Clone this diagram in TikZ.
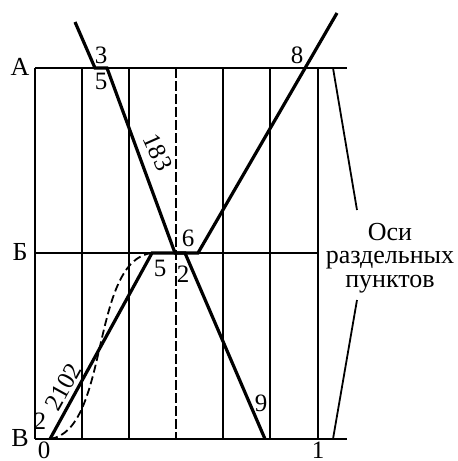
\documentclass[tikz,border=0pt]{standalone}
\usepackage{fontspec}
\setmainfont{Liberation Serif}

\begin{document}
\begin{tikzpicture}[x=0.5pt,y=-0.5pt,
  grid/.style={line width=0.9pt},
  train/.style={line width=1.6pt},
  lbl/.style={font=\fontsize{12.5}{14}\selectfont,inner sep=0.5pt}]
\useasboundingbox (0,0) rectangle (457,461);
% stations
\coordinate (A0) at (35,68);  \coordinate (A1) at (347,68);
\coordinate (B0) at (35,253); \coordinate (B1) at (318,253);
\coordinate (V0) at (35,439); \coordinate (V1) at (347,439);
\draw[grid] (A0) -- (A1);
\draw[grid] (B0) -- (B1);
\draw[grid] (V0) -- (V1);
\node[lbl,font=\fontsize{13}{14}\selectfont] (stA) at (20,67) {А};
\node[lbl,font=\fontsize{13}{14}\selectfont] (stB) at (20,252) {Б};
\node[lbl,font=\fontsize{13}{14}\selectfont] (stV) at (20,438) {В};
% time axes
\foreach \x in {35,82,129,223,270,318}
  \draw[grid] (\x,68) -- (\x,439);
\draw[grid,dashed,dash pattern=on 5pt off 1.5pt] (176,68) -- (176,439);
\node[lbl] (t0) at (44,450) {0};
\node[lbl] (t1) at (318,450) {1};
% trains
\coordinate (p1) at (75,22);   \coordinate (p2) at (95,68);
\coordinate (p3) at (107,68);  \coordinate (p4) at (175,253);
\coordinate (p5) at (185,253); \coordinate (p6) at (265,439);
\draw[train] (p1) -- (p2) -- (p3) -- (p4) -- (p5) -- (p6);
\coordinate (q1) at (50,439);  \coordinate (q2) at (152,253);
\coordinate (q3) at (198,253); \coordinate (q4) at (337,13);
\draw[train] (q1) -- (q2) -- (q3) -- (q4);
\draw[grid,dashed,dash pattern=on 4pt off 2pt] (q1) .. controls (110,430) and (90,260) .. (q2);
% times and numbers
\node[lbl] (m3) at (101,55) {3};
\node[lbl] (m5a) at (101,81) {5};
\node[lbl,rotate=-66] (n183) at (158,152) {183};
\node[lbl] (m8) at (297,55) {8};
\node[lbl] (m6) at (188,238) {6};
\node[lbl] (m5b) at (160,268) {5};
\node[lbl] (m2a) at (183,274) {2};
\node[lbl] (m9) at (261,403) {9};
\node[lbl] (m2b) at (40,421) {2};
\node[lbl,rotate=61] (n2102) at (63,387) {2102};
% axes of separate points
\node[font=\fontsize{13}{11.75}\selectfont,align=center,inner sep=0pt] (axes) at (390,258) {Оси\\раздельных\\пунктов};
\coordinate (k1) at (333,68);  \coordinate (k2) at (357,210);
\coordinate (k3) at (357,300); \coordinate (k4) at (333,439);
\draw[grid] (k1) -- (k2);
\draw[grid] (k3) -- (k4);
\end{tikzpicture}
\end{document}
